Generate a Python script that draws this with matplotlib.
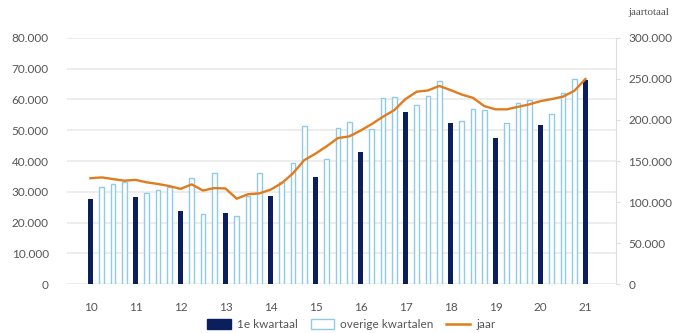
import matplotlib
matplotlib.use("Agg")
import matplotlib.pyplot as plt
from matplotlib.ticker import FuncFormatter
from matplotlib.patches import Patch
from matplotlib.lines import Line2D

plt.rcParams['font.family'] = ['Lato', 'DejaVu Sans']

# quarterly values, 2010 Q1 .. 2021 Q1
years = ['10', '11', '12', '13', '14', '15', '16', '17', '18', '19', '20', '21']
quarterly = [
    27600, 31600, 32500, 33200,
    28300, 29600, 30600, 31600,
    23700, 34500, 22800, 36000,
    23100, 22100, 28500, 36000,
    28600, 33200, 39300, 51400,
    34700, 40600, 50600, 52600,
    42800, 50300, 60400, 60900,
    55800, 58300, 61200, 66000,
    52200, 53000, 56900, 56600,
    47400, 52500, 58800, 59800,
    51700, 55200, 62000, 66800,
    66300,
]
# rolling year total (right axis)
jaar = [
    129000, 130000, 128000, 126000,
    127000, 124000, 122000, 119500,
    116000, 121500, 114000, 117000,
    116500, 104000, 109500, 110500,
    115000, 123000, 135000, 151000,
    159000, 168000, 178000, 180000,
    187000, 195000, 204000, 212000,
    225500, 234500, 236000, 241500,
    236500, 231000, 227000, 217000,
    213000, 213000, 216000, 219000,
    223000, 225500, 228500, 235500,
    250000,
]

NAVY = '#0b1f5e'
LIGHT = '#8fcbe6'
ORANGE = '#e07c1e'
GRID = '#ececec'
TXT = '#555555'


def dotfmt(v, pos):
    return f"{int(v):,}".replace(',', '.')


fig = plt.figure(figsize=(6.82, 3.33), dpi=100)
ax = fig.add_axes([0.098, 0.147, 0.805, 0.739])
ax2 = ax.twinx()

x = list(range(len(quarterly)))
q1_x = [i for i in x if i % 4 == 0]
q1_v = [quarterly[i] for i in q1_x]
ov_x = [i for i in x if i % 4 != 0]
ov_v = [quarterly[i] for i in ov_x]

ax.bar(q1_x, q1_v, width=0.42, color=NAVY, zorder=3)
ax.bar(ov_x, ov_v, width=0.42, facecolor='white', edgecolor=LIGHT,
       linewidth=1.0, zorder=3)
ax2.plot(x, jaar, color=ORANGE, linewidth=1.7, zorder=4)

ax.set_xlim(-2.1, 46.7)
ax.set_ylim(0, 80000)
ax2.set_ylim(0, 300000)
ax.set_yticks(range(0, 80001, 10000))
ax2.set_yticks(range(0, 300001, 50000))
ax.yaxis.set_major_formatter(FuncFormatter(dotfmt))
ax2.yaxis.set_major_formatter(FuncFormatter(dotfmt))
ax.set_xticks(q1_x)
ax.set_xticklabels(years)

ax.grid(axis='y', color=GRID, linewidth=1.3, zorder=0)
ax.set_axisbelow(True)
for s in ['top', 'left', 'bottom', 'right']:
    ax.spines[s].set_visible(False)
for s in ['top', 'left', 'bottom']:
    ax2.spines[s].set_visible(False)
ax2.spines['right'].set_color('#dddddd')

ax.tick_params(axis='y', length=0, pad=13, labelsize=8.5, labelcolor=TXT)
ax.tick_params(axis='x', length=0, pad=13, labelsize=8.5, labelcolor=TXT)
ax2.tick_params(axis='y', length=3, color='#dddddd', pad=6, labelsize=8.5,
                labelcolor=TXT)

ax2.set_zorder(ax.get_zorder() + 1)
ax2.patch.set_visible(False)

fig.text(0.922, 0.955, 'jaartotaal', fontsize=8, color=TXT,
         family=['Liberation Serif', 'DejaVu Serif'])

handles = [
    Patch(facecolor=NAVY, edgecolor=NAVY),
    Patch(facecolor='white', edgecolor=LIGHT),
    Line2D([0], [0], color=ORANGE, linewidth=1.8),
]
fig.legend(handles, ['1e kwartaal', 'overige kwartalen', 'jaar'],
           loc='center', bbox_to_anchor=(0.515, 0.025), ncol=3, frameon=False,
           fontsize=8.5, labelcolor=TXT, handlelength=2.0, handleheight=0.9,
           columnspacing=1.1, handletextpad=0.5)

fig.savefig('out.png', dpi=100)
